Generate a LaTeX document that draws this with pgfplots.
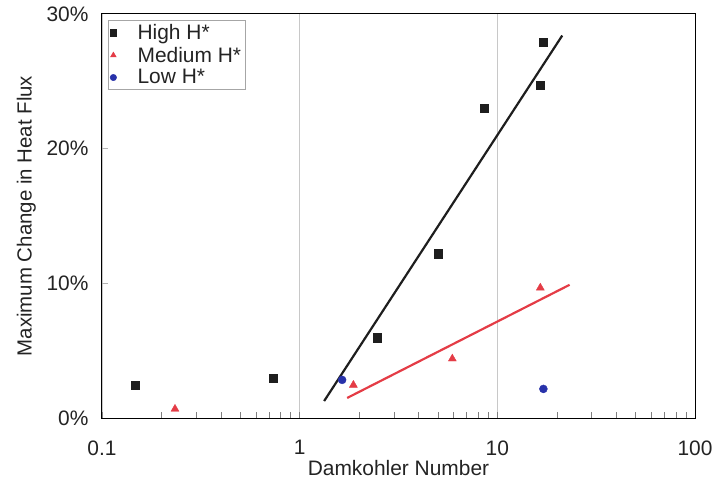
\documentclass[border=0pt]{standalone}
\usepackage{fontspec}
\setmainfont{Liberation Sans}
\usepackage{pgfplots}
\pgfplotsset{compat=1.18}
\definecolor{hiblack}{RGB}{30,30,30}
\definecolor{medred}{RGB}{228,60,70}
\definecolor{lowblue}{RGB}{40,50,170}
\definecolor{gridgray}{RGB}{200,200,200}
\definecolor{txt}{RGB}{35,35,35}
\begin{document}
\begin{tikzpicture}
\begin{axis}[
  at={(0,0)}, anchor=south west,
  scale only axis,
  width=593bp, height=404bp,
  xmode=log,
  xmin=0.1, xmax=100,
  ymin=0, ymax=30,
  xtick={0.1,1,10,100},
  xticklabels={0.1,1,10,100},
  ytick={0,10,20,30},
  yticklabel={\pgfmathprintnumber{\tick}\%},
  /pgf/number format/assume math mode=true,
  tick label style={font=\fontsize{21}{24}\selectfont, text=txt},
  xticklabel style={yshift=-19bp},
  yticklabel style={xshift=-10bp},
  xlabel={Damkohler Number},
  ylabel={Maximum Change in Heat Flux},
  label style={font=\fontsize{21}{24}\selectfont, text=txt},
  xlabel style={yshift=2bp},
  ylabel style={yshift=4bp, font=\fontsize{20.5}{24}\selectfont},
  axis line style={black, line width=1pt},
  xmajorgrids, major x grid style={gridgray, line width=0.6pt},
  major tick length=0pt,
  minor tick length=6bp,
  minor x tick style={gray, line width=0.5pt},
  minor y tick num=0,
  extra y ticks={10,20},
  extra y tick labels={},
  extra y tick style={major tick length=6bp, tick style={gray!60, line width=0.4pt}},
  tick align=inside,
  xtick pos=bottom, ytick pos=left,
  legend style={at={(0.01,0.985)}, anchor=north west, draw=gray!70, line width=0.5pt,
    font=\fontsize{21}{24}\selectfont, text=txt, inner xsep=2bp, inner ysep=2bp,
    row sep=2bp},
  legend image code/.code={%
    \node[inner sep=0pt, minimum width=22bp, minimum height=1bp] at (12bp,0bp) {};
    \draw[#1, mark size=3.2bp, only marks] plot coordinates {(12bp,0bp)};},
  legend cell align=left,
  clip=false,
]
% high H*
\addplot[only marks, mark=square*, mark size=4.2bp, color=hiblack] coordinates {
  (0.147,2.45) (0.734,2.97) (2.47,5.95) (5.03,12.2) (8.6,23.0) (16.5,24.7) (17.1,27.9)
};
\addlegendentry{High H*}
% medium H*
\addplot[only marks, mark=triangle*, mark size=4.6bp, color=medred] coordinates {
  (0.234,0.67) (1.87,2.45) (5.92,4.4) (16.5,9.67)
};
\addlegendentry{Medium H*}
% low H*
\addplot[only marks, mark=*, mark size=4bp, color=lowblue] coordinates {
  (1.64,2.83) (17.1,2.16)
};
\addlegendentry{Low H*}
% trend lines
\addplot[hiblack, line width=2.2pt, forget plot] coordinates {(1.33,1.26) (21.3,28.4)};
\addplot[medred, line width=2.2pt, forget plot] coordinates {(1.74,1.49) (23.2,9.89)};
\end{axis}
\pgfresetboundingbox
\path (-102bp,-65bp) rectangle (614bp,418bp);
\end{tikzpicture}
\end{document}
